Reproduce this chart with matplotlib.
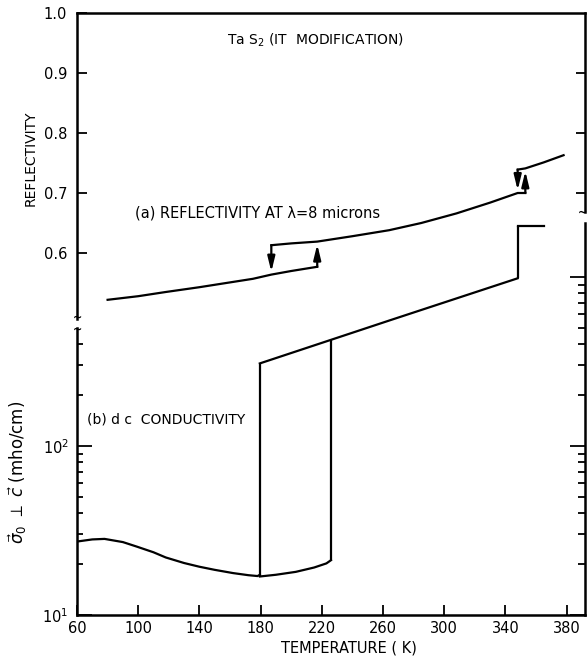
import matplotlib
matplotlib.use('Agg')
import matplotlib.pyplot as plt
from matplotlib.ticker import FixedLocator, NullFormatter, FixedFormatter

plt.rcParams['font.family'] = ['DejaVu Sans']
plt.rcParams['mathtext.fontset'] = 'dejavusans'

# ---------------- data ----------------
# (a) reflectivity at 8 microns
refl_low_T = [80, 100, 118, 140, 160, 175, 187, 200, 217]
refl_low_v = [0.522, 0.528, 0.535, 0.543, 0.551, 0.557, 0.564, 0.570, 0.577]
refl_up_T = [187, 200, 217, 240, 264, 285, 308, 330, 348, 353]
refl_up_v = [0.613, 0.616, 0.619, 0.628, 0.638, 0.650, 0.666, 0.684, 0.700, 0.700]
refl_high_T = [348, 353, 365, 378]
refl_high_v = [0.739, 0.741, 0.751, 0.763]
arrow_T = [187, 217, 348, 353]
arrow_from = [0.613, 0.577, 0.739, 0.700]
arrow_to = [0.564, 0.619, 0.700, 0.741]

# (b) dc conductivity (mho/cm)
cool_T = [60, 70, 78, 90, 99, 110, 118, 130, 140, 150, 162, 172, 178, 179.5]
cool_s = [27.2, 28.0, 28.2, 27.0, 25.4, 23.5, 21.9, 20.3, 19.3, 18.5, 17.7, 17.2, 17.0, 17.3]
low_T = [179.5, 190, 203, 215, 223, 226]
low_s = [16.9, 17.3, 18.0, 19.1, 20.2, 21.1]
up_T = [179.5, 265, 348]
up_s = [308, 556, 982]
step_T = [179.5, 226, 348]
step_lo = [17.0, 21.1, 982]
step_hi = [308, 424, 2000]
high_T = [348, 365]
high_s = [2000, 2000]

x_ticks = [60, 100, 140, 180, 220, 260, 300, 340, 380]
refl_ticks = [0.6, 0.7, 0.8, 0.9, 1.0]
refl_tick_labels = ['0.6', '0.7', '0.8', '0.9', '1.0']
refl_right_ticks = [0.7, 0.8, 0.9]
cond_major = [10, 100]
cond_major_labels = ['10$^1$', '10$^2$']
cond_left_minor = [20, 30, 40, 50, 60, 70, 80, 90, 200, 300, 400]
cond_right_major = [10, 100, 1000]
cond_right_minor = [20, 30, 40, 50, 60, 70, 80, 90, 200, 300, 400, 500, 600, 700, 800, 900]

# ---------------- figure ----------------
W, H = 588, 658
fig = plt.figure(figsize=(W / 100, H / 100), dpi=100)

def px_axes(x0, x1, ytop, ybot):
    return [x0 / W, 1 - ybot / H, (x1 - x0) / W, (ybot - ytop) / H]

lw = 1.6
sp_lw = 1.8
xlim = (60, 392)
tick_fs = 10.5

# bottom (log) axes
ax2 = fig.add_axes(px_axes(77, 585, 222.5, 615))
ax2.set_yscale('log')
ax2.set_xlim(*xlim)
ax2.set_ylim(10, 2100)
ax2.patch.set_alpha(0)
ax2.spines['top'].set_visible(False)
ax2.spines['left'].set_bounds(10, 500)
for s in ax2.spines.values():
    s.set_linewidth(sp_lw)
ax2.xaxis.set_major_locator(FixedLocator(x_ticks))
ax2.yaxis.set_major_locator(FixedLocator(cond_major))
ax2.yaxis.set_major_formatter(FixedFormatter(cond_major_labels))
ax2.yaxis.set_minor_locator(FixedLocator(cond_left_minor))
ax2.yaxis.set_minor_formatter(NullFormatter())
ax2.tick_params(axis='x', direction='in', length=7, width=1.3, labelsize=tick_fs, pad=4)
ax2.tick_params(axis='y', which='major', direction='in', length=11, width=1.3,
                labelsize=tick_fs, pad=6, right=False)
ax2.tick_params(axis='y', which='minor', direction='in', length=4.5, width=1.3, right=False)

ax2r = ax2.twinx()
ax2r.set_yscale('log')
ax2r.set_ylim(10, 2100)
for s in ax2r.spines.values():
    s.set_visible(False)
ax2r.yaxis.set_major_locator(FixedLocator(cond_right_major))
ax2r.yaxis.set_minor_locator(FixedLocator(cond_right_minor))
ax2r.yaxis.set_major_formatter(NullFormatter())
ax2r.yaxis.set_minor_formatter(NullFormatter())
ax2r.tick_params(axis='y', which='major', direction='in', length=11, width=1.3)
ax2r.tick_params(axis='y', which='minor', direction='in', length=5, width=1.3)

ax2.plot(cool_T, cool_s, color='k', lw=lw)
ax2.plot(low_T, low_s, color='k', lw=lw)
ax2.plot(up_T, up_s, color='k', lw=lw)
ax2.vlines(step_T, step_lo, step_hi, color='k', lw=lw)
ax2.plot(high_T, high_s, color='k', lw=lw)

ax2.text(66.5, 144, '(b) d c  CONDUCTIVITY', fontsize=10, va='center', ha='left')
ax2.set_xlabel('TEMPERATURE ( K)', fontsize=10.5)
ax2.xaxis.set_label_coords(0.536, -0.066)
ax2.set_ylabel(r'$\vec{\sigma}_0\ \perp\ \vec{c}$ (mho/cm)', fontsize=12)
ax2.yaxis.set_label_coords(-0.094, 0.364)

# top (linear) axes
ax1 = fig.add_axes(px_axes(77, 585, 13, 319), sharex=ax2)
ax1.set_ylim(0.49, 1.0)
ax1.patch.set_alpha(0)
ax1.spines['bottom'].set_visible(False)
ax1.spines['right'].set_bounds(0.668, 1.0)
for s in ax1.spines.values():
    s.set_linewidth(sp_lw)
ax1.yaxis.set_major_locator(FixedLocator(refl_ticks))
ax1.yaxis.set_major_formatter(FixedFormatter(refl_tick_labels))
ax1.tick_params(axis='y', direction='in', length=7.5, width=1.3, labelsize=tick_fs,
                pad=7, right=False)
ax1.tick_params(axis='x', bottom=False, labelbottom=False)

ax1r = ax1.twinx()
ax1r.set_ylim(0.49, 1.0)
for s in ax1r.spines.values():
    s.set_visible(False)
ax1r.yaxis.set_major_locator(FixedLocator(refl_right_ticks))
ax1r.yaxis.set_major_formatter(NullFormatter())
ax1r.tick_params(axis='y', direction='in', length=6.5, width=1.3)

ax1.plot(refl_low_T, refl_low_v, color='k', lw=lw)
ax1.plot(refl_up_T, refl_up_v, color='k', lw=lw)
ax1.plot(refl_high_T, refl_high_v, color='k', lw=lw)
for t, a, b in zip(arrow_T, arrow_from, arrow_to):
    ax1.annotate('', xy=(t, b), xytext=(t, a),
                 arrowprops=dict(arrowstyle='-|>,head_length=0.9,head_width=0.22',
                                 color='k', lw=lw, shrinkA=0, shrinkB=2))

ax1.text(158, 0.955, 'Ta S$_2$ (IT  MODIFICATION)', fontsize=10, va='center', ha='left')
ax1.text(98, 0.667, '(a) REFLECTIVITY AT λ=8 microns', fontsize=10.5, va='center', ha='left')
ax1.set_ylabel('REFLECTIVITY', fontsize=10)
ax1.yaxis.set_label_coords(-0.078, 0.526)

# break marks on the broken spines
ax1.text(0, 0.493, '~', transform=ax1.get_yaxis_transform(), fontsize=8,
         ha='center', va='center', fontweight='bold')
ax1.text(0.995, 0.668, '~', transform=ax1.get_yaxis_transform(), fontsize=8,
         ha='center', va='center', fontweight='bold')
ax2.text(0, 490, '~', transform=ax2.get_yaxis_transform(), fontsize=8,
         ha='center', va='center', fontweight='bold')

fig.savefig('out.png', dpi=100)
